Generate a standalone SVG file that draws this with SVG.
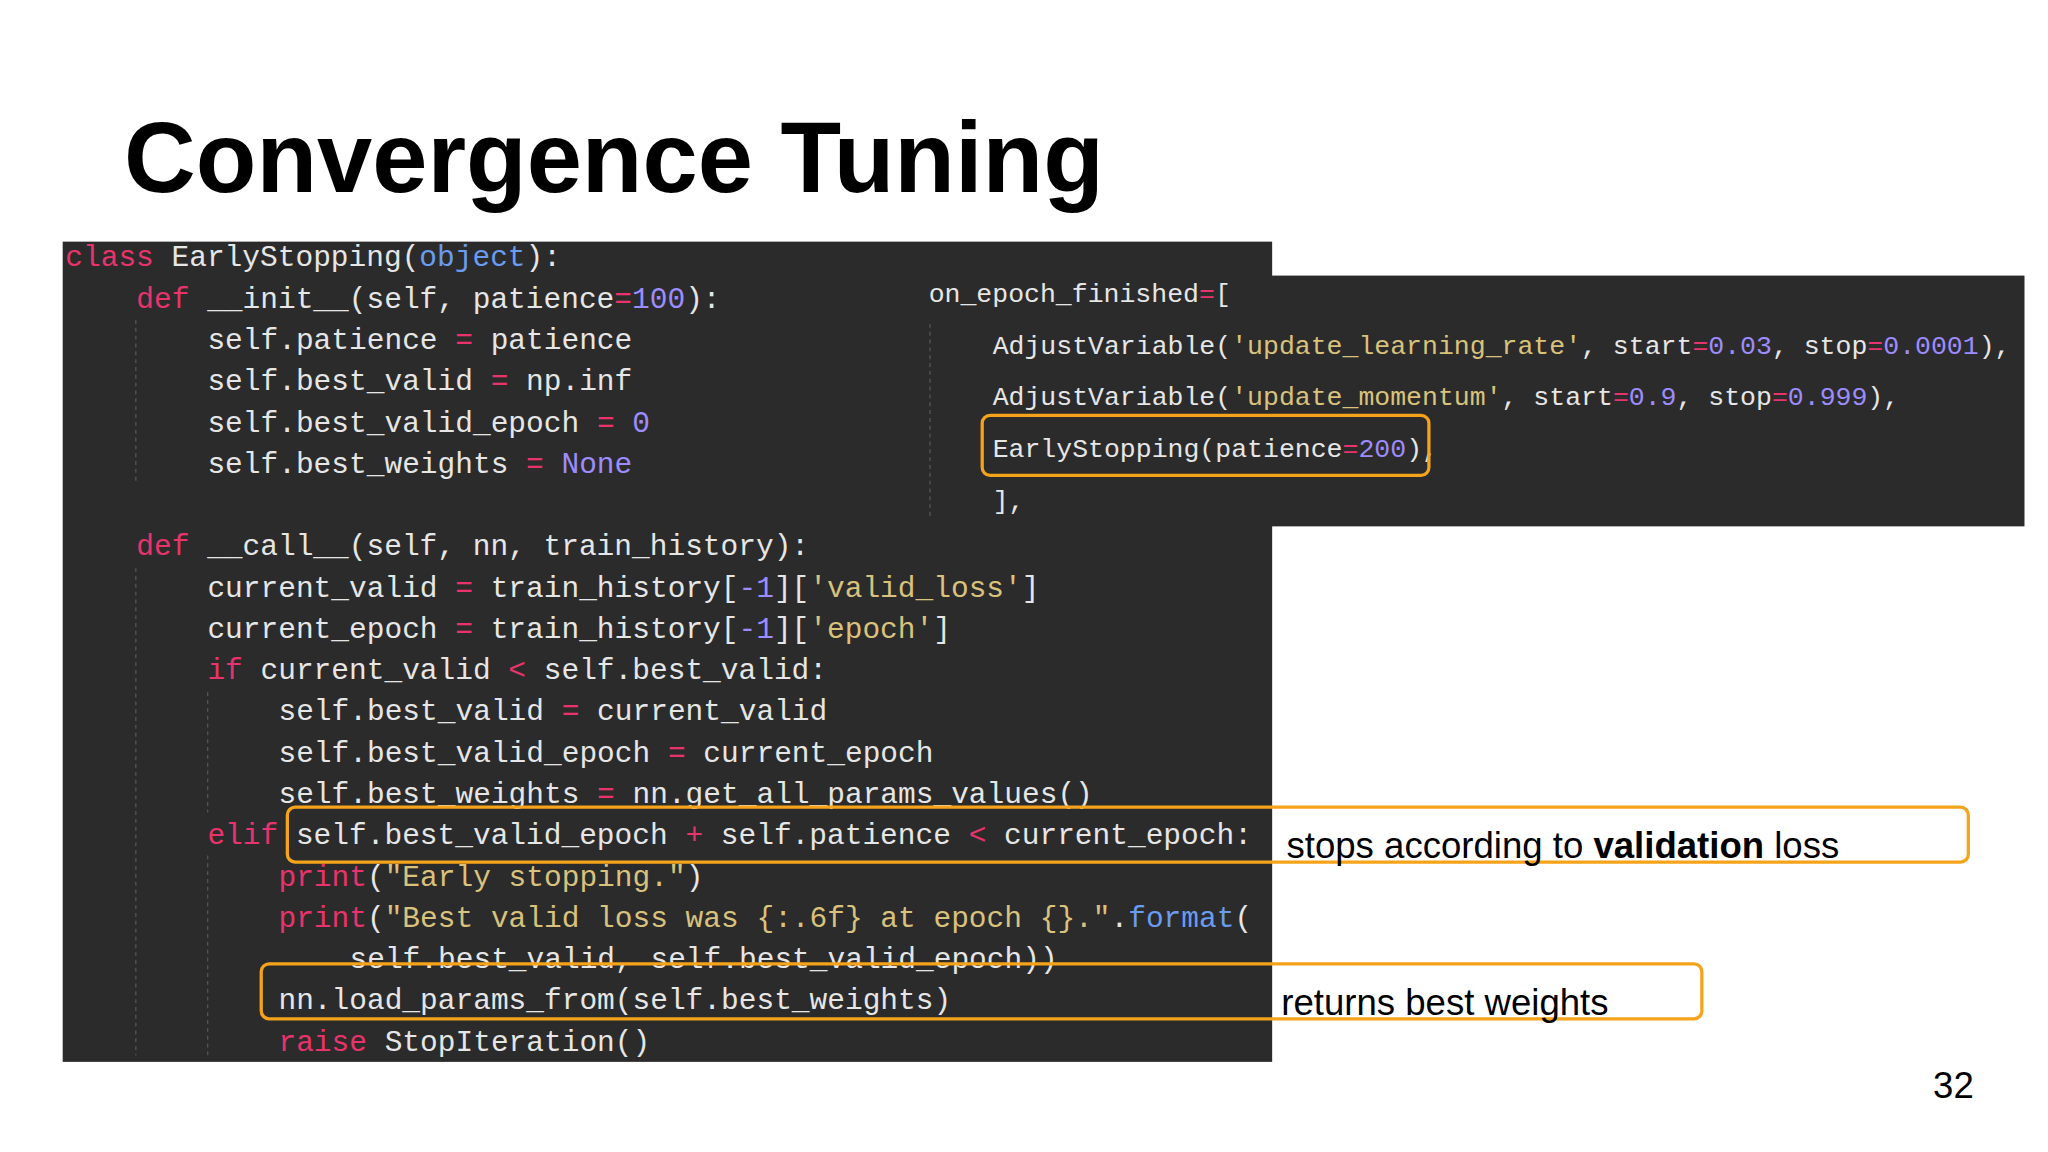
<svg xmlns="http://www.w3.org/2000/svg" width="2048" height="1152" viewBox="0 0 2048 1152">
<style>
.c{font-family:"Liberation Mono",monospace;font-size:22.6px;fill:#e6e6e6;white-space:pre}
.c2{font-family:"Liberation Mono",monospace;font-size:20.3px;fill:#e6e6e6;white-space:pre}
.k{fill:#e8336c}.b{fill:#6a9cf0}.n{fill:#9d8cff}.s{fill:#d9c27c}
.box{fill:none;stroke:#f5a31a;stroke-width:2.5}
.lbl{font-family:"Liberation Sans",Arial,sans-serif;font-size:28px;fill:#000}
.g{stroke:#555;stroke-width:1;stroke-dasharray:3 3}
</style>
<rect width="2048" height="1152" fill="#fff"/>
<g transform="scale(1.30612)">
<text x="95" y="147" font-family="Liberation Sans,Arial,sans-serif" font-weight="bold" font-size="76" fill="#000">Convergence Tuning</text>
<g id="code1">
<rect x="48" y="185" width="926" height="628" fill="#2b2b2b"/>
<line class="g" x1="104" y1="245" x2="104" y2="370"/>
<line class="g" x1="104" y1="435" x2="104" y2="808"/>
<line class="g" x1="159" y1="530" x2="159" y2="622"/>
<line class="g" x1="159" y1="655" x2="159" y2="808"/>
<text class="c" x="50" y="204"><tspan class="k">class</tspan> EarlyStopping(<tspan class="b">object</tspan>):</text>
<text class="c" x="104.4" y="235.6"><tspan class="k">def</tspan> __init__(self, patience<tspan class="k">=</tspan><tspan class="n">100</tspan>):</text>
<text class="c" x="158.8" y="267.2">self.patience <tspan class="k">=</tspan> patience</text>
<text class="c" x="158.8" y="298.8">self.best_valid <tspan class="k">=</tspan> np.inf</text>
<text class="c" x="158.8" y="330.4">self.best_valid_epoch <tspan class="k">=</tspan> <tspan class="n">0</tspan></text>
<text class="c" x="158.8" y="362">self.best_weights <tspan class="k">=</tspan> <tspan class="n">None</tspan></text>
<text class="c" x="104.4" y="425.2"><tspan class="k">def</tspan> __call__(self, nn, train_history):</text>
<text class="c" x="158.8" y="456.8">current_valid <tspan class="k">=</tspan> train_history[<tspan class="n">-1</tspan>][<tspan class="s">'valid_loss'</tspan>]</text>
<text class="c" x="158.8" y="488.4">current_epoch <tspan class="k">=</tspan> train_history[<tspan class="n">-1</tspan>][<tspan class="s">'epoch'</tspan>]</text>
<text class="c" x="158.8" y="520"><tspan class="k">if</tspan> current_valid <tspan class="k">&lt;</tspan> self.best_valid:</text>
<text class="c" x="213.2" y="551.6">self.best_valid <tspan class="k">=</tspan> current_valid</text>
<text class="c" x="213.2" y="583.2">self.best_valid_epoch <tspan class="k">=</tspan> current_epoch</text>
<text class="c" x="213.2" y="614.8">self.best_weights <tspan class="k">=</tspan> nn.get_all_params_values()</text>
<text class="c" x="158.8" y="646.4"><tspan class="k">elif</tspan> self.best_valid_epoch <tspan class="k">+</tspan> self.patience <tspan class="k">&lt;</tspan> current_epoch:</text>
<text class="c" x="213.2" y="678"><tspan class="k">print</tspan>(<tspan class="s">"Early stopping."</tspan>)</text>
<text class="c" x="213.2" y="709.6"><tspan class="k">print</tspan>(<tspan class="s">"Best valid loss was {:.6f} at epoch {}."</tspan>.<tspan class="b">format</tspan>(</text>
<text class="c" x="267.6" y="741.2">self.best_valid, self.best_valid_epoch))</text>
<text class="c" x="213.2" y="772.8">nn.load_params_from(self.best_weights)</text>
<text class="c" x="213.2" y="804.4"><tspan class="k">raise</tspan> StopIteration()</text>
</g>
<g id="code2">
<rect x="700" y="211" width="850" height="192" fill="#2b2b2b"/>
<line class="g" x1="712" y1="248" x2="712" y2="395"/>
<text class="c2" x="711" y="231">on_epoch_finished<tspan class="k">=</tspan>[</text>
<text class="c2" x="760" y="271">AdjustVariable(<tspan class="s">'update_learning_rate'</tspan>, start<tspan class="k">=</tspan><tspan class="n">0.03</tspan>, stop<tspan class="k">=</tspan><tspan class="n">0.0001</tspan>),</text>
<text class="c2" x="760" y="310">AdjustVariable(<tspan class="s">'update_momentum'</tspan>, start<tspan class="k">=</tspan><tspan class="n">0.9</tspan>, stop<tspan class="k">=</tspan><tspan class="n">0.999</tspan>),</text>
<text class="c2" x="760" y="350">EarlyStopping(patience<tspan class="k">=</tspan><tspan class="n">200</tspan>),</text>
<text class="c2" x="760" y="390">],</text>
</g>
<g id="highlights">
<rect class="box" x="752" y="318" width="342" height="46" rx="6"/>
<rect class="box" x="220" y="618" width="1287" height="42" rx="6"/>
<rect class="box" x="200" y="738" width="1103" height="42" rx="6"/>
</g>
<g id="labels">
<text class="lbl" x="985" y="657">stops according to <tspan font-weight="bold">validation</tspan> loss</text>
<text class="lbl" x="981" y="777">returns best weights</text>
<text class="lbl" x="1480" y="841" font-size="26">32</text>
</g>
</g>
</svg>
